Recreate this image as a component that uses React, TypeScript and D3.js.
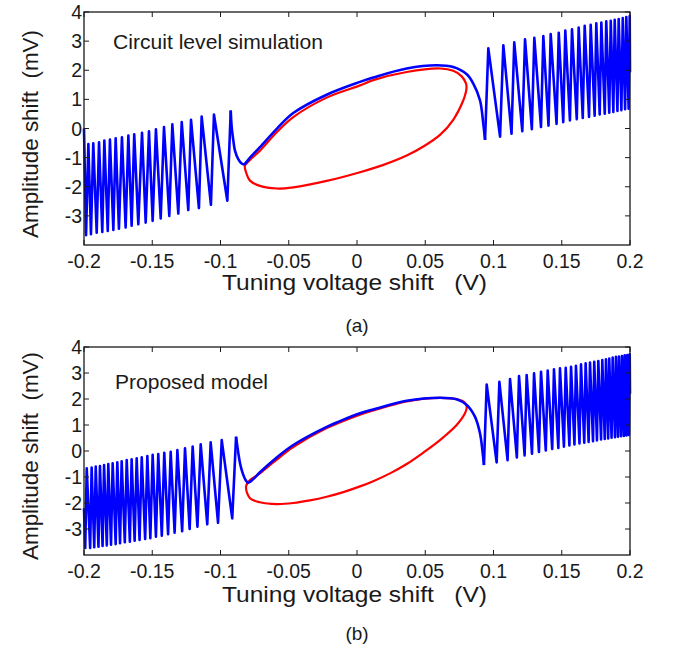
import React from 'react';
import * as d3 from 'd3';

type P = [number, number];

const xTicks = [-0.2, -0.15, -0.1, -0.05, 0, 0.05, 0.1, 0.15, 0.2];
const yTicks = [4, 3, 2, 1, 0, -1, -2, -3];

// ---------- (a) Circuit level simulation ----------
const topBlueLeft: P[] = [
  [-0.2, 0], [-0.1985, -3.66], [-0.1968, -0.53], [-0.1949, -3.63], [-0.1932, -0.51], [-0.1907, -3.58],
  [-0.189, -0.47], [-0.1866, -3.55], [-0.1851, -0.41], [-0.1826, -3.52], [-0.181, -0.38], [-0.1785, -3.48],
  [-0.1768, -0.34], [-0.1744, -3.44], [-0.1722, -0.3], [-0.1695, -3.4], [-0.1675, -0.24], [-0.1651, -3.34],
  [-0.1632, -0.2], [-0.1602, -3.29], [-0.1575, -0.15], [-0.1548, -3.23], [-0.1524, -0.1], [-0.1497, -3.17],
  [-0.1473, -0.03], [-0.1438, -3.09], [-0.1414, 0.05], [-0.1375, -3.0], [-0.1353, 0.14], [-0.1309, -2.92],
  [-0.1284, 0.22], [-0.1236, -2.8], [-0.1216, 0.3], [-0.1158, -2.73], [-0.1138, 0.41], [-0.107, -2.62],
  [-0.1048, 0.48], [-0.095, -2.48], [-0.0925, 0.62],
];
const topBlueMid: P[] = [
  [-0.0925, 0.62], [-0.0918, 0.05], [-0.0906, -0.41], [-0.0894, -0.76], [-0.087, -1.05], [-0.0845, -1.2],
  [-0.0828, -1.23], [-0.0784, -1.0], [-0.0711, -0.64], [-0.0588, -0.01], [-0.0467, 0.53], [-0.0222, 1.16],
  [0.0022, 1.6], [0.0119, 1.75], [0.0364, 2.06], [0.0584, 2.17], [0.0705, 2.11], [0.0804, 1.86],
  [0.0852, 1.54], [0.0901, 0.97], [0.0925, 0.17], [0.0938, -0.39],
];
const topBlueRight: P[] = [
  [0.0938, -0.39], [0.0962, 2.75], [0.1048, -0.28], [0.1072, 2.86], [0.1132, -0.18], [0.1152, 2.96],
  [0.1211, -0.09], [0.1231, 3.06], [0.1281, -0.02], [0.1299, 3.11], [0.1348, 0.05], [0.1365, 3.17],
  [0.1403, 0.1], [0.1419, 3.24], [0.1462, 0.16], [0.1478, 3.29], [0.1511, 0.22], [0.1526, 3.36],
  [0.156, 0.28], [0.1575, 3.41], [0.161, 0.32], [0.1624, 3.47], [0.1654, 0.36], [0.1668, 3.53],
  [0.17, 0.4], [0.1712, 3.56], [0.1741, 0.44], [0.1753, 3.61], [0.1778, 0.48], [0.179, 3.64],
  [0.1815, 0.51], [0.1826, 3.68], [0.1848, 0.54], [0.1859, 3.7], [0.1878, 0.57], [0.1888, 3.73],
  [0.1908, 0.6], [0.1917, 3.76], [0.1937, 0.63], [0.1947, 3.79], [0.1964, 0.66], [0.1973, 3.83],
  [0.199, 0.68], [0.1998, 3.86], [0.2, 1.93],
];
const topRed: P[] = [
  [-0.0821, -1.28], [-0.0784, -1.08], [-0.0711, -0.76], [-0.0588, -0.13], [-0.0467, 0.39], [-0.0222, 1.06],
  [0.0022, 1.48], [0.0119, 1.66], [0.0364, 1.94], [0.0608, 2.06], [0.0705, 1.98], [0.0767, 1.79],
  [0.0799, 1.54], [0.0802, 1.4], [0.0799, 1.28], [0.0779, 0.97], [0.0705, 0.3], [0.0608, -0.22],
  [0.0486, -0.62], [0.0364, -0.93], [0.0194, -1.25], [0.0022, -1.5], [-0.0222, -1.8], [-0.0467, -2.02],
  [-0.0588, -2.06], [-0.0711, -1.97], [-0.0784, -1.79], [-0.0813, -1.5],
];

// ---------- (b) Proposed model ----------
const botBlueLeft: P[] = [
  [-0.2, -2.2],
  [-0.1991, -3.73], [-0.198, -0.67], [-0.1955, -3.73], [-0.1944, -0.64], [-0.1925, -3.7], [-0.1914, -0.6],
  [-0.1894, -3.68], [-0.1883, -0.58], [-0.1864, -3.65], [-0.1853, -0.54], [-0.1833, -3.63], [-0.1822, -0.5],
  [-0.1802, -3.6], [-0.179, -0.47], [-0.1768, -3.58], [-0.1756, -0.43], [-0.1736, -3.55], [-0.1724, -0.4],
  [-0.1701, -3.51], [-0.1687, -0.35], [-0.1664, -3.49], [-0.1651, -0.32], [-0.1629, -3.45], [-0.1614, -0.28],
  [-0.1593, -3.42], [-0.1577, -0.24], [-0.1552, -3.38], [-0.1536, -0.19], [-0.1514, -3.35], [-0.1497, -0.15],
  [-0.1473, -3.3], [-0.1456, -0.12], [-0.143, -3.26], [-0.1412, -0.07], [-0.1384, -3.2], [-0.1365, -0.03],
  [-0.1336, -3.14], [-0.1316, 0.04], [-0.1281, -3.08], [-0.126, 0.1], [-0.1226, -3.0], [-0.1204, 0.17],
  [-0.1169, -2.91], [-0.1145, 0.26], [-0.1097, -2.82], [-0.1072, 0.33], [-0.1018, -2.76], [-0.0991, 0.42],
  [-0.0914, -2.59], [-0.0886, 0.55],
];
const botBlueMid: P[] = [
  [-0.0886, 0.55], [-0.0857, -0.47], [-0.0837, -0.86], [-0.0813, -1.14], [-0.0796, -1.22], [-0.076, -1.08],
  [-0.0711, -0.82], [-0.0588, -0.25], [-0.0467, 0.23], [-0.0222, 0.93], [-0.0125, 1.15], [0.0022, 1.45],
  [0.0119, 1.6], [0.0364, 1.93], [0.0608, 2.05], [0.073, 1.99], [0.0804, 1.77], [0.0864, 1.32],
  [0.0901, 0.68], [0.0921, -0.09], [0.093, -0.54],
];
const botBlueRight: P[] = [
  [0.093, -0.54], [0.095, 2.56], [0.1023, -0.44], [0.1043, 2.66], [0.1103, -0.35], [0.1121, 2.77],
  [0.1171, -0.25], [0.1187, 2.88], [0.1228, -0.17], [0.1243, 2.92], [0.1282, -0.1], [0.1297, 2.99],
  [0.1333, -0.04], [0.1348, 3.05], [0.1383, 0.02], [0.1397, 3.09], [0.143, 0.08], [0.1443, 3.14],
  [0.1475, 0.12], [0.1487, 3.18], [0.1516, 0.17], [0.1529, 3.2], [0.1556, 0.21], [0.1568, 3.24],
  [0.1593, 0.25], [0.1604, 3.28], [0.163, 0.29], [0.1641, 3.33], [0.1665, 0.32], [0.1675, 3.37],
  [0.1697, 0.35], [0.1707, 3.4], [0.1729, 0.38], [0.1738, 3.43], [0.1758, 0.41], [0.1768, 3.46],
  [0.1788, 0.44], [0.1797, 3.5], [0.1815, 0.46], [0.1824, 3.53], [0.184, 0.48], [0.1848, 3.56],
  [0.1865, 0.51], [0.1873, 3.59], [0.189, 0.53], [0.1897, 3.62], [0.1912, 0.55], [0.1919, 3.63],
  [0.1934, 0.57], [0.1941, 3.65], [0.1955, 0.58], [0.1961, 3.68], [0.1974, 0.6], [0.198, 3.69],
  [0.1992, 0.62], [0.1998, 3.72], [0.2, 2.2],
];
const botRed: P[] = [
  [-0.0813, -1.37], [-0.0784, -1.12], [-0.0711, -0.86], [-0.0588, -0.33], [-0.0467, 0.15], [-0.0222, 0.88],
  [0.0022, 1.4], [0.0119, 1.56], [0.0364, 1.91], [0.0608, 2.04], [0.0755, 1.96], [0.0791, 1.86],
  [0.0804, 1.7], [0.0791, 1.45], [0.073, 1.0], [0.0608, 0.42], [0.0486, -0.06], [0.0364, -0.5],
  [0.0242, -0.86], [0.0119, -1.16], [0.0022, -1.36], [-0.01, -1.58], [-0.0222, -1.76], [-0.0345, -1.9],
  [-0.0467, -2.0], [-0.0588, -2.04], [-0.0711, -1.97], [-0.0784, -1.82],
];

const FONT = '"Liberation Sans", Arial, Helvetica, sans-serif';
const AX = '#1a1a1a';
const BLUE = '#0000ff';
const RED = '#ff0000';

type PanelProps = {
  top: number; bottom: number;
  blueLeft: P[]; blueMid: P[]; blueRight: P[]; red: P[];
  note: string; noteX: number; noteY: number; noteLen: number;
  caption: string; yTitleY: number;
  tickGap: number; titleGap: number; capGap: number;
};

function Panel(p: PanelProps) {
  const x = d3.scaleLinear().domain([-0.2, 0.2]).range([84, 630]);
  const y = d3.scaleLinear().domain([-4, 4]).range([p.bottom, p.top]);
  const lin = d3.line<P>().x(d => x(d[0])).y(d => y(d[1]));
  const smooth = d3.line<P>().x(d => x(d[0])).y(d => y(d[1])).curve(d3.curveCatmullRom.alpha(0.5));
  const closed = d3.line<P>().x(d => x(d[0])).y(d => y(d[1])).curve(d3.curveCatmullRomClosed.alpha(0.5));
  const [x0, x1] = x.range();
  const tl = 5;
  const bw = 2.6;
  return (
    <g>
      <path d={closed(p.red) || ''} fill="none" stroke={RED} strokeWidth={2.2} />
      <path d={lin(p.blueLeft) || ''} fill="none" stroke={BLUE} strokeWidth={bw} strokeLinejoin="round" />
      <path d={smooth(p.blueMid) || ''} fill="none" stroke={BLUE} strokeWidth={bw} strokeLinejoin="round" />
      <path d={lin(p.blueRight) || ''} fill="none" stroke={BLUE} strokeWidth={bw} strokeLinejoin="round" />
      <rect x={x0} y={p.top} width={x1 - x0} height={p.bottom - p.top} fill="none" stroke={AX} strokeWidth={1.3} />
      {xTicks.map(t => (
        <g key={'x' + t}>
          <line x1={x(t)} x2={x(t)} y1={p.bottom} y2={p.bottom - tl} stroke={AX} />
          <line x1={x(t)} x2={x(t)} y1={p.top} y2={p.top + tl} stroke={AX} />
          <text x={x(t)} y={p.bottom + p.tickGap} textAnchor="middle" fontSize={19.5} fill={AX}>{String(t)}</text>
        </g>
      ))}
      {yTicks.map(t => (
        <g key={'y' + t}>
          <line x1={x0} x2={x0 + tl} y1={y(t)} y2={y(t)} stroke={AX} />
          <line x1={x1} x2={x1 - tl} y1={y(t)} y2={y(t)} stroke={AX} />
          <text x={x0 - 2} y={y(t)} dy="0.36em" textAnchor="end" fontSize={19.5} fill={AX}>{String(t)}</text>
        </g>
      ))}
      <text x={p.noteX} y={p.noteY} fontSize={21} fill={AX} textLength={p.noteLen} lengthAdjust="spacingAndGlyphs">{p.note}</text>
      <text x={222} y={p.bottom + p.titleGap} fontSize={22} fill={AX} style={{ whiteSpace: 'pre' }}
        textLength={265} lengthAdjust="spacingAndGlyphs">{'Tuning voltage shift   (V)'}</text>
      <text x={357} y={p.bottom + p.capGap} textAnchor="middle" fontSize={19} fill={AX}>{p.caption}</text>
      <g transform={`translate(38,${p.yTitleY}) rotate(-90)`}>
        <text x={0} y={0} textAnchor="middle" fontSize={22} fill={AX} style={{ whiteSpace: 'pre' }}
          textLength={208} lengthAdjust="spacingAndGlyphs">{'Amplitude shift  (mV)'}</text>
      </g>
    </g>
  );
}

export default function App() {
  return (
    <svg width={676} height={650} viewBox="0 0 676 650"
      style={{ position: 'absolute', left: 0, top: 0, background: '#fff', fontFamily: FONT }}>
      <rect x={0} y={0} width={676} height={650} fill="#fff" />
      <Panel top={12} bottom={245} blueLeft={topBlueLeft} blueMid={topBlueMid} blueRight={topBlueRight} red={topRed}
        note="Circuit level simulation" noteX={113} noteY={49} noteLen={210} caption="(a)" yTitleY={134}
        tickGap={23} titleGap={45} capGap={87} />
      <Panel top={347} bottom={555} blueLeft={botBlueLeft} blueMid={botBlueMid} blueRight={botBlueRight} red={botRed}
        note="Proposed model" noteX={115} noteY={389} noteLen={153} caption="(b)" yTitleY={456}
        tickGap={23} titleGap={47} capGap={85} />
    </svg>
  );
}
